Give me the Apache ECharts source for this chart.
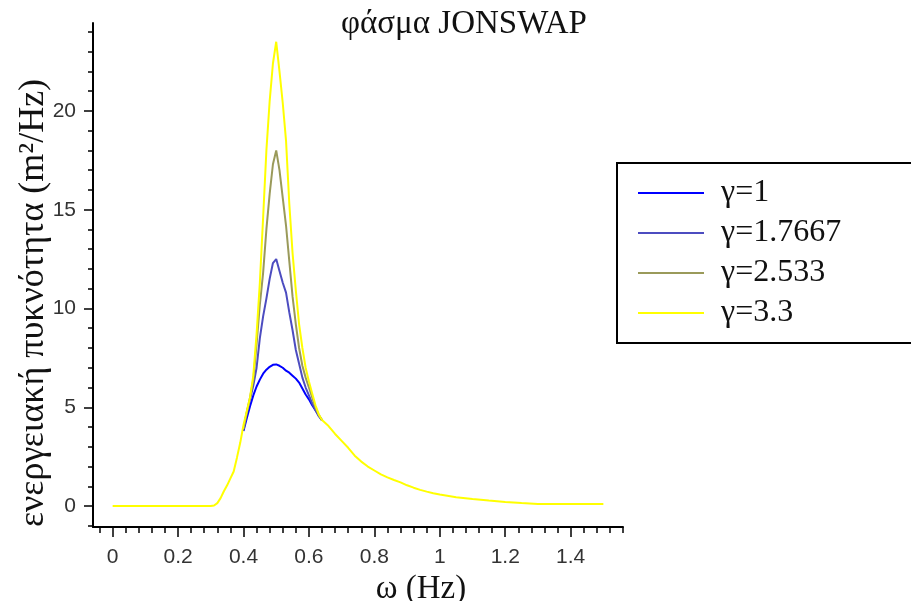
<!DOCTYPE html>
<html><head><meta charset="utf-8">
<script src="https://cdn.jsdelivr.net/npm/echarts@6/dist/echarts.min.js"></script>
<style>html,body{margin:0;padding:0;background:#fff}#c{width:911px;height:601px}</style>
</head><body><div id="c"></div>
<script>
const seriesNames = ['γ=1', 'γ=1.7667', 'γ=2.533', 'γ=3.3'];

const xTickLabels = [0, 0.2, 0.4, 0.6, 0.8, 1, 1.2, 1.4];
const xMinorTicks = [-0.04, 0, 0.04, 0.08, 0.12, 0.16, 0.2, 0.24, 0.28, 0.32, 0.36, 0.4, 0.44, 0.48, 0.52, 0.56, 0.6, 0.64, 0.68, 0.72, 0.76, 0.8, 0.84, 0.88, 0.92, 0.96, 1, 1.04, 1.08, 1.12, 1.16, 1.2, 1.24, 1.28, 1.32, 1.36, 1.4, 1.44, 1.48, 1.52, 1.56];
const yTickLabels = [0, 5, 10, 15, 20];
const yMinorTicks = [-1, 0, 1, 2, 3, 4, 5, 6, 7, 8, 9, 10, 11, 12, 13, 14, 15, 16, 17, 18, 19, 20, 21, 22, 23, 24];

// frequency grid of the full gamma=3.3 curve
const freqFull = [0, 0.05, 0.1, 0.15, 0.2, 0.25, 0.3, 0.31, 0.32, 0.33, 0.34, 0.35, 0.36, 0.37, 0.38, 0.39,
  0.40, 0.41, 0.42, 0.43, 0.44, 0.45, 0.46, 0.47, 0.48, 0.49, 0.50, 0.51, 0.52, 0.53, 0.54, 0.55, 0.56, 0.57,
  0.58, 0.59, 0.60, 0.61, 0.62, 0.63, 0.64, 0.66, 0.68, 0.70, 0.72, 0.74, 0.76, 0.78, 0.80, 0.82, 0.84, 0.86,
  0.88, 0.90, 0.92, 0.94, 0.96, 0.98, 1.00, 1.05, 1.10, 1.15, 1.20, 1.25, 1.30, 1.35, 1.40, 1.45, 1.50];
const gamma33 = [0, 0, 0, 0, 0, 0, 0, 0.03, 0.15, 0.4, 0.75, 1.05, 1.4, 1.75, 2.45, 3.2,
  4.1, 4.8, 5.5, 6.6, 8.7, 11.3, 14.6, 18.0, 20.5, 22.4, 23.5, 22.0, 20.4, 18.5, 15.3, 12.8, 10.9, 9.2,
  8.0, 7.0, 6.3, 5.7, 5.1, 4.65, 4.35, 4.05, 3.65, 3.3, 2.95, 2.55, 2.25, 2.0, 1.8, 1.6, 1.45, 1.32,
  1.2, 1.05, 0.93, 0.82, 0.73, 0.65, 0.58, 0.45, 0.36, 0.28, 0.21, 0.15, 0.1, 0.1, 0.1, 0.1, 0.1];

// frequency grid of the peak region (other gammas coincide with gamma=3.3 elsewhere)
const freqPeak = [0.40, 0.41, 0.42, 0.43, 0.44, 0.45, 0.46, 0.47, 0.48, 0.49, 0.50, 0.51, 0.52,
  0.53, 0.54, 0.55, 0.56, 0.57, 0.58, 0.59, 0.60, 0.61, 0.62, 0.63, 0.64];
const gamma1 = [3.8, 4.45, 5.05, 5.6, 6.05, 6.4, 6.7, 6.9, 7.05, 7.15, 7.17, 7.1, 7.0,
  6.85, 6.75, 6.6, 6.45, 6.25, 5.95, 5.65, 5.4, 5.1, 4.85, 4.6, 4.34];
const gamma17667 = [3.9, 4.7, 5.4, 6.1, 7.0, 8.5, 9.6, 10.5, 11.5, 12.3, 12.5, 11.9, 11.3,
  10.8, 9.8, 8.9, 7.9, 7.2, 6.5, 6.0, 5.6, 5.2, 4.85, 4.55, 4.34];
const gamma2533 = [3.9, 4.75, 5.5, 6.4, 8.2, 10.2, 11.8, 14.0, 15.8, 17.3, 18.0, 17.0, 15.6,
  14.2, 12.4, 10.6, 9.2, 8.0, 7.1, 6.5, 6.0, 5.5, 5.0, 4.6, 4.35];

const colors = ['#0000ff', '#4c4cc0', '#9a9a5a', '#ffff00'];
const zip = (xs, ys) => xs.map((x, i) => [x, ys[i]]);

const chart = echarts.init(document.getElementById('c'), null, {renderer: 'canvas'});
const serif = 'Liberation Serif, Times New Roman, serif';
const sans = 'Liberation Sans, Arial, sans-serif';

const X_MIN = -0.06, X_MAX = 1.56, Y_MIN = -1.06, Y_MAX = 24.45;
const gridBox = {left: 93, right: 288, top: 23, bottom: 74, containLabel: false, outerBoundsMode: 'none'};

const tickAxis = (gridIndex, min, max, pos, vals, len) => ({
  type: 'value', gridIndex: gridIndex, min: min, max: max, position: pos,
  axisLine: {show: false, onZero: false},
  axisTick: {show: true, customValues: vals.slice().reverse(), length: len, lineStyle: {color: '#000', width: 1.5}},
  axisLabel: {show: false},
  splitLine: {show: false}
});

chart.setOption({
  animation: false,
  backgroundColor: '#ffffff',
  title: {
    text: 'φάσμα JONSWAP', left: 336, top: 3,
    textStyle: {fontFamily: serif, fontSize: 33, fontWeight: 'normal', color: '#111'}
  },
  grid: [Object.assign({}, gridBox), Object.assign({}, gridBox)],
  legend: {
    orient: 'vertical', left: 633, top: 172, itemGap: 8,
    icon: 'rect', itemWidth: 66, itemHeight: 2,
    data: seriesNames,
    textStyle: {fontFamily: serif, fontSize: 32, color: '#111', padding: [0, 0, 0, 12]}
  },
  graphic: [{
    type: 'rect', shape: {x: 617, y: 163, width: 320, height: 180},
    style: {fill: 'none', stroke: '#000', lineWidth: 2}, silent: true
  }],
  xAxis: [{
    type: 'value', gridIndex: 0, min: X_MIN, max: X_MAX, position: 'bottom',
    name: 'ω (Hz)', nameLocation: 'middle', nameGap: 36,
    nameTextStyle: {fontFamily: serif, fontSize: 33, color: '#111', padding: [0, 0, 0, 126]},
    axisLine: {show: true, onZero: false, lineStyle: {color: '#000', width: 2}},
    axisTick: {show: false},
    axisLabel: {customValues: xTickLabels, margin: 20, fontFamily: sans, fontSize: 21, color: '#333'},
    splitLine: {show: false}
  },
    tickAxis(0, X_MIN, X_MAX, 'bottom', xMinorTicks, 6),
    tickAxis(1, X_MIN, X_MAX, 'bottom', xTickLabels, 10)
  ],
  yAxis: [{
    type: 'value', gridIndex: 0, min: Y_MIN, max: Y_MAX, position: 'left',
    name: 'ενεργειακή πυκνότητα (m²/Hz)', nameLocation: 'middle', nameGap: 41, nameMoveOverlap: false,
    nameTextStyle: {fontFamily: serif, fontSize: 36, color: '#111', padding: [0, 56, 0, 0]},
    axisLine: {show: true, onZero: false, lineStyle: {color: '#000', width: 2}},
    axisTick: {show: false},
    axisLabel: {customValues: yTickLabels, margin: 17, fontFamily: sans, fontSize: 21, color: '#333'},
    splitLine: {show: false}
  },
    tickAxis(0, Y_MIN, Y_MAX, 'left', yMinorTicks, 5),
    tickAxis(1, Y_MIN, Y_MAX, 'left', yTickLabels, 9)
  ],
  series: [
    {name: seriesNames[0], data: zip(freqPeak, gamma1), color: colors[0]},
    {name: seriesNames[1], data: zip(freqPeak, gamma17667), color: colors[1]},
    {name: seriesNames[2], data: zip(freqPeak, gamma2533), color: colors[2]},
    {name: seriesNames[3], data: zip(freqFull, gamma33), color: colors[3]}
  ].map(s => Object.assign({
    type: 'line', xAxisIndex: 0, yAxisIndex: 0, showSymbol: false, symbol: 'none',
    lineStyle: {width: 2, color: s.color}, itemStyle: {color: s.color}
  }, s))
});
</script>
</body></html>
